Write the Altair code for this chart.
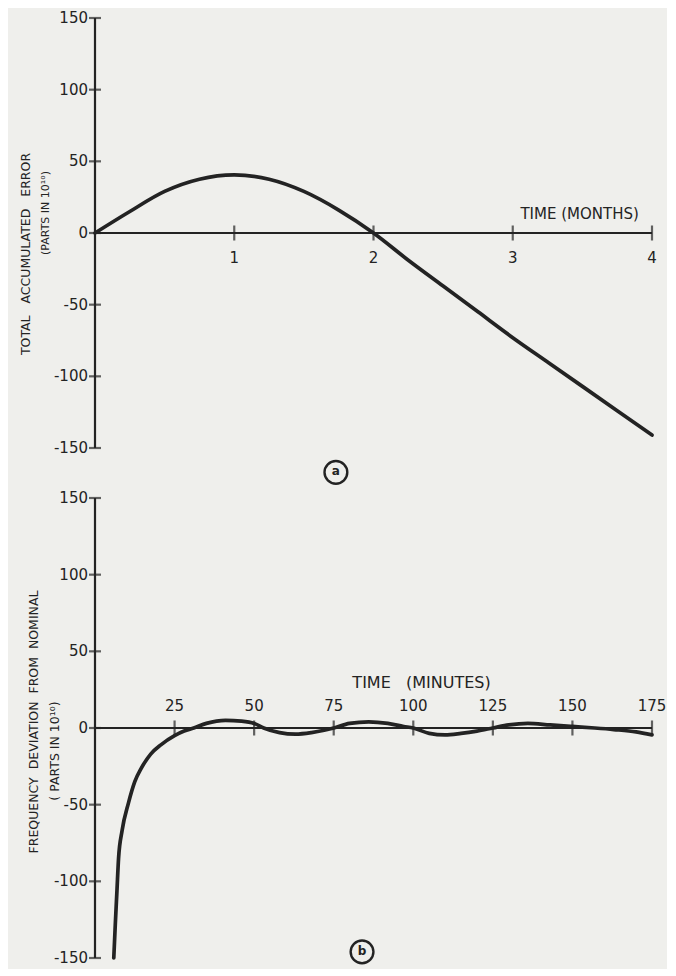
import altair as alt
import pandas as pd

# ---------------- panel (a): total accumulated error ----------------
months = [0, 0.25, 0.5, 0.75, 1.0, 1.25, 1.5, 1.75, 2.0, 2.25, 2.5, 2.75, 3.0, 3.25, 3.5, 3.75, 4.0]
error = [0, 15, 29, 37.5, 40.5, 37.5, 29, 16, 0, -19, -37, -55, -73, -90, -107, -124, -141]
month_ticks = [1, 2, 3, 4]
error_ticks = [-150, -100, -50, 0, 50, 100, 150]

# ---------------- panel (b): frequency deviation ----------------
minutes = [5.9, 6.4, 6.9, 7.4, 8.5, 10.5, 12.5, 14.6, 17.5, 20.7, 25, 28, 31, 35, 41, 46, 50,
           53, 58, 63, 68, 72, 75, 80, 86, 92, 97, 100, 105, 110, 115, 120, 125, 130, 136,
           143, 150, 157, 163, 170, 175]
deviation = [-150, -127, -106, -85, -67, -49, -35, -26, -17, -11, -5, -2, 0, 3, 5, 4.5, 3,
             0, -3, -4, -3, -1.5, 0, 3, 4, 3, 1, 0, -3.5, -4.5, -3.5, -2, 0, 2, 3,
             2, 1, 0, -1, -2.5, -4.5]
minute_ticks = [25, 50, 75, 100, 125, 150, 175]
deviation_ticks = [-150, -100, -50, 0, 50, 100, 150]

INK = "#232323"
FONT = "DejaVu Sans"
BG = "#efefec"
SP = "\u00a0"


def panel(xs, ys, xdom, xticks, yticks, w, h, xlab_dy, xtitle, xtitle_pos, xtitle_dy, xtitle_size,
          ytitle1, ytitle2, t1, t2, t2_size, letter, letter_pos):
    xs_ = alt.Scale(domain=xdom, nice=False, zero=False)
    ys_ = alt.Scale(domain=[-150, 150], nice=False, zero=False)
    X = lambda f: alt.X(f, scale=xs_, axis=None)
    Y = lambda f: alt.Y(f, scale=ys_, axis=None)

    curve = alt.Chart(pd.DataFrame({"x": xs, "y": ys})).mark_line(
        color=INK, strokeWidth=3.7, interpolate="monotone", strokeCap="round"
    ).encode(x=X("x:Q"), y=Y("y:Q"))

    yline = alt.Chart(pd.DataFrame({"a": [-150], "b": [150], "x": [0]})).mark_rule(
        color=INK, strokeWidth=2.2
    ).encode(x=X("x:Q"), y=Y("a:Q"), y2="b:Q")

    xline = alt.Chart(pd.DataFrame({"a": [xdom[0]], "b": [xdom[1]], "y": [0]})).mark_rule(
        color=INK, strokeWidth=2.2
    ).encode(x=X("a:Q"), x2="b:Q", y=Y("y:Q"))

    ydf = pd.DataFrame({"v": yticks, "x": [0] * len(yticks), "lab": [str(v) for v in yticks]})
    yt = alt.Chart(ydf).mark_tick(color=INK, orient="horizontal", size=12, thickness=2.2).encode(
        x=X("x:Q"), y=Y("v:Q"))
    ylab = alt.Chart(ydf).mark_text(color=INK, font=FONT, fontSize=15, align="right",
                                     baseline="middle", dx=-7).encode(
        x=X("x:Q"), y=Y("v:Q"), text="lab:N")

    xdf = pd.DataFrame({"v": xticks, "y": [0] * len(xticks), "lab": [str(v) for v in xticks]})
    xt = alt.Chart(xdf).mark_tick(color=INK, orient="vertical", size=15, thickness=2.2).encode(
        x=X("v:Q"), y=Y("y:Q"))
    xlab = alt.Chart(xdf).mark_text(color=INK, font=FONT, fontSize=15, align="center",
                                     baseline="middle", dy=xlab_dy).encode(
        x=X("v:Q"), y=Y("y:Q"), text="lab:N")

    xtit = alt.Chart(pd.DataFrame({"x": [xtitle_pos], "y": [0], "t": [xtitle]})).mark_text(
        color=INK, font=FONT, fontSize=xtitle_size, align="center", baseline="middle", dy=xtitle_dy
    ).encode(x=X("x:Q"), y=Y("y:Q"), text="t:N")

    yt1 = alt.Chart(pd.DataFrame({"t": [ytitle1]})).mark_text(
        color=INK, font=FONT, fontSize=12.5, angle=270, align="center", baseline="middle"
    ).encode(x=alt.value(t1[0]), y=alt.value(t1[1]), text="t:N")
    yt2 = alt.Chart(pd.DataFrame({"t": [ytitle2]})).mark_text(
        color=INK, font=FONT, fontSize=t2_size, angle=270, align="center", baseline="middle"
    ).encode(x=alt.value(t2[0]), y=alt.value(t2[1]), text="t:N")

    ldf = pd.DataFrame({"x": [letter_pos[0]], "y": [letter_pos[1]], "t": [letter]})
    circ = alt.Chart(ldf).mark_point(shape="circle", filled=False, size=520, color=INK,
                                      strokeWidth=2.4, opacity=1).encode(x=X("x:Q"), y=Y("y:Q"))
    ltxt = alt.Chart(ldf).mark_text(color=INK, font=FONT, fontSize=12, fontWeight="bold",
                                     baseline="middle", dy=-1).encode(
        x=X("x:Q"), y=Y("y:Q"), text="t:N")

    return alt.layer(yline, xline, yt, xt, ylab, xlab, xtit, yt1, yt2, curve, circ, ltxt).properties(
        width=w, height=h)


top = panel(months, error, [0, 4], month_ticks, error_ticks, 557, 430, 25,
            "TIME" + SP + "(MONTHS)", 3.48, -19, 15,
            "TOTAL" + SP * 3 + "ACCUMULATED" + SP * 3 + "ERROR", "(PARTS IN 10¹⁰)",
            (-69, 236), (-49, 195), 11, "a", (1.73, -167))

bottom = panel(minutes, deviation, [0, 175], minute_ticks, deviation_ticks, 557, 460, -22,
               "TIME" + SP * 3 + "(MINUTES)", 102.6, -45, 16,
               "FREQUENCY" + SP * 2 + "DEVIATION" + SP * 2 + "FROM" + SP * 2 + "NOMINAL",
               "(" + SP + "PARTS" + SP + "IN" + SP + "10¹⁰)",
               (-61, 224), (-40, 253), 12.5, "b", (83.9, -146))

chart = alt.vconcat(top, bottom, spacing=50, bounds="flush").configure_view(
    stroke=None
).properties(
    background=BG,
    padding={"left": 12, "top": 3, "right": 0, "bottom": 0},
)

chart.save("out.html", embed_options={"renderer": "svg", "actions": False})
